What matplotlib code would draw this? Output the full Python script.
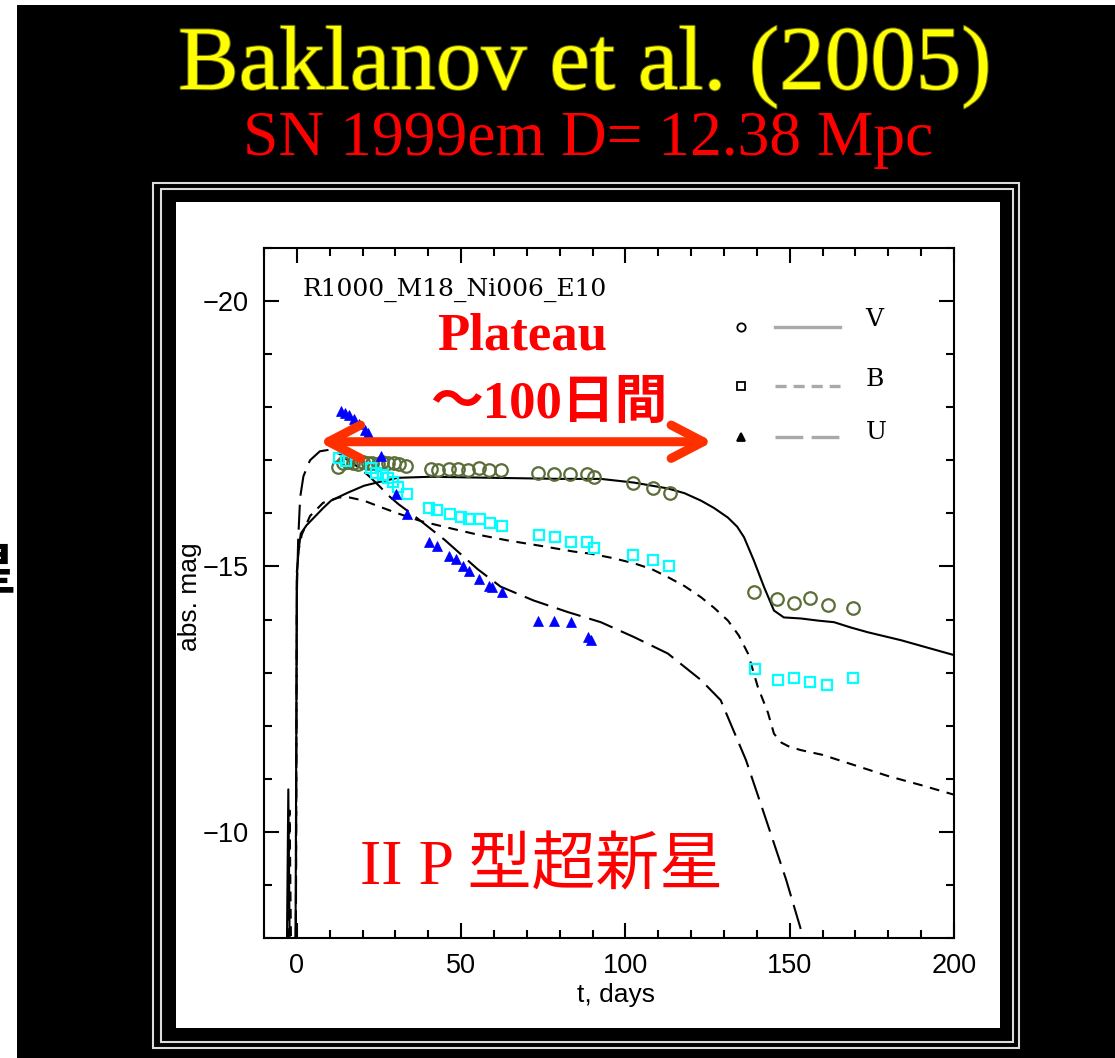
import matplotlib
matplotlib.use("Agg")
import matplotlib.pyplot as plt
import matplotlib.patheffects as pe
from matplotlib.patches import Rectangle
from matplotlib.ticker import MultipleLocator

plt.rcParams["lines.scale_dashes"] = False

# ---------------- observed photometry of SN 1999em ----------------
V_t = [12.5, 14, 15.5, 17, 18.6, 20, 21.6, 23, 24.7, 26, 27.7, 29.5, 31, 33.2,
       40.8, 42.9, 46.3, 49.0, 52.1, 55.4, 58.4, 62.1,
       73.4, 78.2, 83.1, 88.3, 90.4,
       102.3, 108.4, 113.5,
       139.1, 146.1, 151.3, 156.2, 161.6, 169.3]
V_mag = [-16.88, -16.95, -16.97, -16.95, -16.93, -16.96, -16.94, -16.95, -16.93, -16.96, -16.94, -16.95, -16.93, -16.90,
         -16.84, -16.82, -16.84, -16.84, -16.82, -16.86, -16.82, -16.82,
         -16.77, -16.75, -16.75, -16.75, -16.69,
         -16.58, -16.48, -16.39,
         -14.51, -14.38, -14.32, -14.40, -14.27, -14.21]

B_t = [12.8, 15.0, 22.5, 24.2, 26.3, 27.8, 29.3, 30.7, 33.5,
       40.2, 42.6, 46.6, 49.9, 52.4, 55.7, 58.8, 62.4,
       73.7, 78.5, 83.4, 88.3, 90.4,
       102.3, 108.4, 113.2,
       139.4, 146.4, 151.3, 156.2, 161.3, 169.3]
B_mag = [-17.05, -16.98, -16.85, -16.77, -16.73, -16.67, -16.60, -16.50, -16.37,
         -16.11, -16.07, -15.98, -15.94, -15.90, -15.90, -15.81, -15.77,
         -15.60, -15.55, -15.47, -15.47, -15.34,
         -15.21, -15.13, -15.00,
         -13.06, -12.86, -12.89, -12.82, -12.76, -12.89]

U_t = [13.4, 14.6, 16.0, 17.4, 19.0, 20.6, 21.5, 25.6, 30.1, 33.5,
       40.2, 42.6, 46.3, 48.4, 50.5, 52.4, 55.4, 58.4, 59.4, 62.4,
       73.4, 78.2, 83.4, 88.6, 89.5]
U_mag = [-17.92, -17.90, -17.85, -17.78, -17.68, -17.58, -17.52, -17.09, -16.37, -15.98,
         -15.47, -15.39, -15.19, -15.15, -15.00, -14.92, -14.76, -14.64, -14.61, -14.51,
         -13.98, -13.98, -13.95, -13.67, -13.61]

# ---------------- model R1000_M18_Ni006_E10 ----------------
Vm_t = [-3.0, -2.6, -2.2, -0.4, 0.0, 0.5, 1.2, 3, 5.2, 8, 10.4, 15.5, 20.4, 25.6, 30.7,
        40.8, 50, 60, 70, 80, 92.5, 102.6, 112.9, 118, 123, 127, 131.2, 134, 136.1,
        139.1, 142.2, 145.2, 148.2, 153.4, 158.6, 163.5, 168.6, 173.8, 183.9, 200]
Vm_mag = [-8.0, -10.8, -8.0, -8.0, -14.8, -15.3, -15.62, -15.78, -15.92, -16.10, -16.24, -16.39, -16.52, -16.60, -16.67,
          -16.69, -16.68, -16.67, -16.66, -16.65, -16.65, -16.58, -16.47, -16.38, -16.24, -16.10, -15.92, -15.75, -15.55,
          -15.11, -14.61, -14.17, -14.04, -14.02, -13.98, -13.95, -13.85, -13.76, -13.61, -13.33]

Bm_t = [-2.6, -2.2, -1.8, -0.3, 0.0, 0.5, 1.5, 4, 8, 12.8, 16, 20.4, 25, 30.7, 38, 46, 55, 64.2,
        75, 84.3, 89.5, 96, 102.6, 108, 112.9, 118, 123, 127, 131.2, 134.5, 137.3, 140.3,
        143.4, 145.2, 147.5, 150, 153.4, 160, 170, 180, 190, 200]
Bm_mag = [-8.0, -10.4, -8.0, -8.0, -14.9, -15.3, -15.6, -15.95, -16.20, -16.30, -16.30, -16.24, -16.13, -16.00, -15.85, -15.73, -15.60, -15.49,
          -15.38, -15.28, -15.24, -15.16, -15.06, -14.95, -14.80, -14.63, -14.42, -14.22, -13.98, -13.70, -13.36, -12.73,
          -12.24, -11.85, -11.68, -11.60, -11.54, -11.45, -11.25, -11.05, -10.88, -10.70]

Um_t = [-0.3, 0.0, 0.4, 1, 2, 4, 7, 10, 13, 16, 19, 22, 25, 28, 31, 35.6, 45, 55, 62, 72,
        82.5, 92.5, 102.6, 112.9, 123, 129, 136.7, 142.8, 148.9, 153.4, 155]
Um_mag = [-8.0, -14.5, -15.5, -16.3, -16.7, -17.0, -17.17, -17.20, -17.12, -16.98, -16.86, -16.70, -16.52, -16.33, -16.17, -15.96, -15.50, -14.95, -14.62, -14.36,
          -14.14, -13.95, -13.67, -13.36, -12.86, -12.48, -11.35, -10.23, -9.10, -8.16, -7.80]

x_ticks = [0, 50, 100, 150, 200]
y_ticks = [-20, -15, -10]

# ---------------- figure canvas ----------------
W, H = 1115, 1058
fig = plt.figure(figsize=(W / 100, H / 100), dpi=100, facecolor="black")


def fx(px):
    return px / W


def fy(py):
    return 1 - py / H


def rect_px(x0, y0, x1, y1, **kw):
    r = Rectangle((fx(x0), fy(y1)), (x1 - x0) / W, (y1 - y0) / H,
                  transform=fig.transFigure, **kw)
    fig.add_artist(r)
    return r


# white margin on the left/top edge
rect_px(0, 0, 17, H, facecolor="white", edgecolor="none", zorder=0.5)
rect_px(0, 0, W, 5, facecolor="white", edgecolor="none", zorder=0.5)
fig.text(fx(16), fy(588), "星", family="Noto Sans CJK JP", weight="bold",
         fontsize=40, color="black", ha="right", va="baseline", zorder=1)

# double frame around the plot panel
rect_px(153, 183, 1019, 1048, facecolor="none", edgecolor="#dcdcdc", linewidth=1.5, zorder=1)
rect_px(161, 189, 1013, 1042, facecolor="none", edgecolor="#dcdcdc", linewidth=1.5, zorder=1)
rect_px(176, 202, 1000, 1028, facecolor="white", edgecolor="none", zorder=1)

# titles
fig.text(fx(585), fy(89), "Baklanov et al. (2005)", family="Liberation Serif",
         fontsize=65.5, color="#ffff00", ha="center", va="baseline", zorder=3,
         path_effects=[pe.withStroke(linewidth=1.5, foreground="#6a6a10")])
fig.text(fx(588), fy(155), "SN 1999em D= 12.38 Mpc", family="Liberation Serif",
         fontsize=45.7, color="#ff0000", ha="center", va="baseline", zorder=3)

# ---------------- light-curve axes ----------------
ax = fig.add_axes([fx(264), fy(938), 690 / W, 690 / H])
ax.set_zorder(2)
ax.set_facecolor("white")

ax.plot(Vm_t, Vm_mag, color="black", lw=1.5, solid_joinstyle="round")
ax.plot(Bm_t, Bm_mag, color="black", lw=1.5, dashes=(7, 5.5))
ax.plot(Um_t, Um_mag, color="black", lw=1.5, dashes=(18, 6.5))

ax.plot(V_t, V_mag, "o", ms=9, mfc="none", mec="#5b6d38", mew=1.6)
ax.plot(B_t, B_mag, "s", ms=7, mfc="none", mec="#00ffff", mew=1.6)
ax.plot(U_t, U_mag, "^", ms=7, mfc="#0000ff", mec="#0000ff", mew=0.5)

ax.set_xlim(-10, 200)
ax.set_ylim(-8, -21)
ax.set_xticks(x_ticks)
ax.set_yticks(y_ticks)
ax.xaxis.set_minor_locator(MultipleLocator(10))
ax.yaxis.set_minor_locator(MultipleLocator(1))
ax.tick_params(which="both", direction="in", top=True, right=True,
               width=1.5, colors="black")
ax.tick_params(which="major", length=11, labelsize=19.5, pad=11)
ax.tick_params(which="minor", length=6)
for lab in ax.get_xticklabels() + ax.get_yticklabels():
    lab.set_family("Liberation Sans")
for sp in ax.spines.values():
    sp.set_linewidth(1.5)

ax.set_xlabel("t, days", family="Liberation Sans", fontsize=19)
ax.set_ylabel("abs. mag", family="Liberation Sans", fontsize=19)
ax.xaxis.label.set_va("center")
ax.yaxis.label.set_va("center")
ax.xaxis.set_label_coords((616 - 264) / 690, -(995 - 938) / 690)
ax.yaxis.set_label_coords((190 - 264) / 690, 1 - (597 - 248) / 690)

ax.text(0.0565, 0.939, "R1000_M18_Ni006_E10", transform=ax.transAxes,
        family="DejaVu Serif", fontsize=18, ha="left", va="center")

# key: symbol, line style, band
key_rows = [("o", "none", (None, None), "V", 0.8855, 0.8957),
            ("s", "none", (8, 5), "B", 0.800, 0.8087),
            ("^", "black", (20, 6), "U", 0.726, 0.7319)]
for mk, fc, dsh, band, yrow, ylab in key_rows:
    ax.plot([0.691], [yrow], mk, ms=6, mfc=fc, mec="black", mew=1.3,
            transform=ax.transAxes, clip_on=False)
    ln, = ax.plot([0.741, 0.835], [yrow, yrow], color="#a9a9a9", lw=2.4,
                  transform=ax.transAxes)
    if dsh[0] is not None:
        ln.set_dashes(dsh)
    ax.text(0.872, ylab, band, transform=ax.transAxes, family="DejaVu Serif",
            fontsize=18, ha="left", va="center")

# plateau annotation
ax.annotate("", xy=(6.7, -17.35), xytext=(126.6, -17.35),
            arrowprops=dict(arrowstyle="<->,head_length=1.15,head_width=0.6",
                            mutation_scale=20, lw=6.5, color="#ff3000",
                            capstyle="round", joinstyle="round",
                            shrinkA=0, shrinkB=0))

fig.text(fx(522), fy(350), "Plateau", family="Liberation Serif", weight="bold",
         fontsize=38, color="#ff0000", ha="center", va="baseline", zorder=5)
fig.text(fx(549), fy(418), "～100日間", family=["Liberation Serif", "Noto Sans CJK JP"],
         weight="bold", fontsize=38, color="#ff0000", ha="center", va="baseline", zorder=5)
fig.text(fx(542), fy(884), "II P 型超新星", family=["Liberation Serif", "Noto Sans CJK JP"],
         fontsize=46, color="#ff0000", ha="center", va="baseline", zorder=5)

fig.savefig("out.png", dpi=100, facecolor=fig.get_facecolor())
